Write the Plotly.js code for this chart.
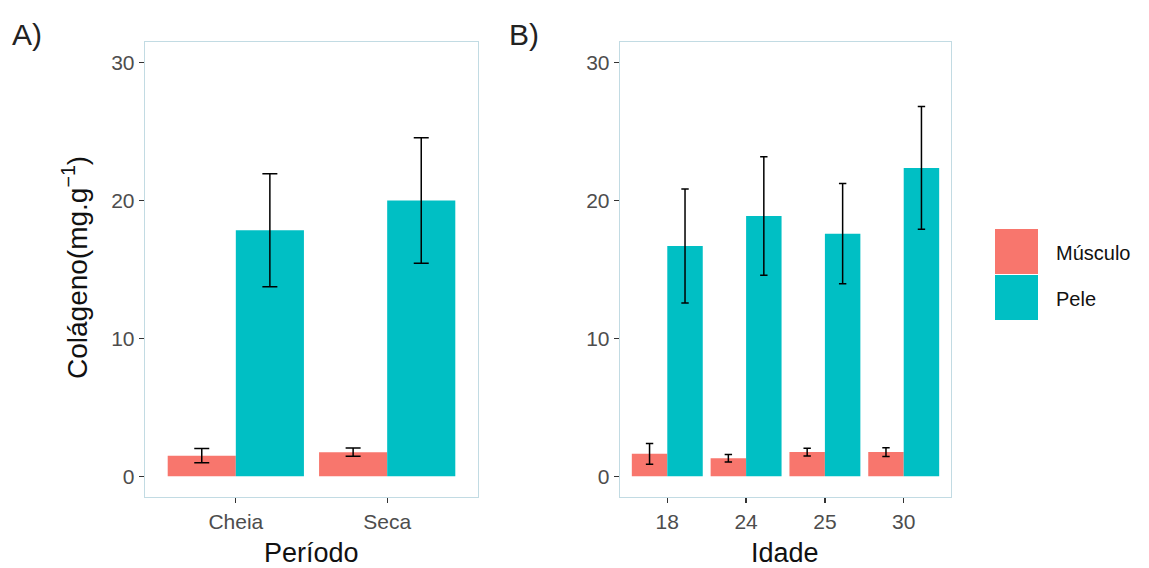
<!DOCTYPE html>
<html>
<head>
<meta charset="utf-8">
<script src="https://cdn.plot.ly/plotly-3.0.1.min.js"></script>
<style>html,body{margin:0;padding:0;background:#fff;}#chart{width:1149px;height:568px;}</style>
</head>
<body>
<div id="chart"></div>
<script>
// Panel A data
const periodos = ["Cheia", "Seca"];
const musculoPeriodo = [1.5, 1.75];
const musculoPeriodoErr = [0.52, 0.3];
const pelePeriodo = [17.85, 20.0];
const pelePeriodoErr = [4.1, 4.55];

// Panel B data
const idades = ["18", "24", "25", "30"];
const musculoIdade = [1.63, 1.31, 1.76, 1.76];
const musculoIdadeErr = [0.75, 0.27, 0.28, 0.32];
const peleIdade = [16.7, 18.88, 17.6, 22.37];
const peleIdadeErr = [4.13, 4.29, 3.63, 4.45];

const seriesNames = ["Músculo", "Pele"];
const seriesColors = ["#F8766D", "#00BFC4"];

const W = 1149, H = 568;
const px = v => v / W;
const py = v => 1 - v / H;

const font = "Liberation Sans, Arial, sans-serif";

function bar(x, y, err, name, color, xa, ya, capw) {
  return {
    type: "bar", x: x, y: y, name: name, xaxis: xa, yaxis: ya,
    marker: {color: color, line: {width: 0}},
    error_y: {type: "data", array: err, visible: true, color: "#000", thickness: 1.5, width: capw},
    showlegend: false, hoverinfo: "x+y"
  };
}

const data = [
  bar(periodos, musculoPeriodo, musculoPeriodoErr, seriesNames[0], seriesColors[0], "x", "y", 7.5),
  bar(periodos, pelePeriodo, pelePeriodoErr, seriesNames[1], seriesColors[1], "x", "y", 7.5),
  bar(idades, musculoIdade, musculoIdadeErr, seriesNames[0], seriesColors[0], "x2", "y2", 3.7),
  bar(idades, peleIdade, peleIdadeErr, seriesNames[1], seriesColors[1], "x2", "y2", 3.7)
];

const borderColor = "#C2DBE3";
const tickFont = {family: font, size: 21, color: "#4D4D4D"};
function xax(domain, n, anchor) {
  return {
    domain: domain, anchor: anchor, type: "category", range: [-0.6, n - 0.4],
    showgrid: false, zeroline: false, showline: true, mirror: true,
    linecolor: borderColor, linewidth: 1.3,
    ticks: "outside", ticklen: 5, tickwidth: 1.2, tickcolor: "#333",
    tickfont: tickFont, fixedrange: true
  };
}
function yax(anchor) {
  return {
    domain: [py(497), py(42)], anchor: anchor, range: [-1.5, 31.5],
    tickvals: [0, 10, 20, 30], ticktext: ["0", "10", "20", "30"],
    showgrid: false, zeroline: false, showline: true, mirror: true,
    linecolor: borderColor, linewidth: 1.3,
    ticks: "outside", ticklen: 5, tickwidth: 1.2, tickcolor: "#333",
    tickfont: tickFont, fixedrange: true
  };
}

const layout = {
  width: W, height: H,
  margin: {l: 0, r: 0, t: 0, b: 0},
  paper_bgcolor: "#fff", plot_bgcolor: "#fff",
  barmode: "group", bargap: 0.1, bargroupgap: 0,
  showlegend: false,
  xaxis: xax([px(145), px(478)], periodos.length, "y"),
  yaxis: yax("x"),
  xaxis2: xax([px(620), px(951)], idades.length, "y2"),
  yaxis2: yax("x2"),
  shapes: [
    {type: "rect", xref: "paper", yref: "paper", x0: px(995), x1: px(1038), y0: py(274), y1: py(229),
     fillcolor: seriesColors[0], line: {width: 0}},
    {type: "rect", xref: "paper", yref: "paper", x0: px(995), x1: px(1038), y0: py(320), y1: py(275),
     fillcolor: seriesColors[1], line: {width: 0}}
  ],
  annotations: [
    {text: "A)", xref: "paper", yref: "paper", x: px(10), y: py(35), xanchor: "left", yanchor: "middle",
     showarrow: false, font: {family: font, size: 30, color: "#222"}},
    {text: "B)", xref: "paper", yref: "paper", x: px(507), y: py(35), xanchor: "left", yanchor: "middle",
     showarrow: false, font: {family: font, size: 30, color: "#222"}},
    {text: "Colágeno(mg.g<sup>−1</sup>)", xref: "paper", yref: "paper", x: px(75), y: py(268),
     xanchor: "center", yanchor: "middle", textangle: -90, showarrow: false,
     font: {family: font, size: 28, color: "#111"}},
    {text: "Período", xref: "paper", yref: "paper", x: px(311), y: py(553), xanchor: "center", yanchor: "middle",
     showarrow: false, font: {family: font, size: 27, color: "#111"}},
    {text: "Idade", xref: "paper", yref: "paper", x: px(785), y: py(553), xanchor: "center", yanchor: "middle",
     showarrow: false, font: {family: font, size: 27, color: "#111"}},
    {text: seriesNames[0], xref: "paper", yref: "paper", x: px(1054), y: py(253), xanchor: "left", yanchor: "middle",
     showarrow: false, font: {family: font, size: 20, color: "#111"}},
    {text: seriesNames[1], xref: "paper", yref: "paper", x: px(1054), y: py(299), xanchor: "left", yanchor: "middle",
     showarrow: false, font: {family: font, size: 20, color: "#111"}}
  ]
};

Plotly.newPlot("chart", data, layout, {displayModeBar: false, staticPlot: true});
</script>
</body>
</html>
